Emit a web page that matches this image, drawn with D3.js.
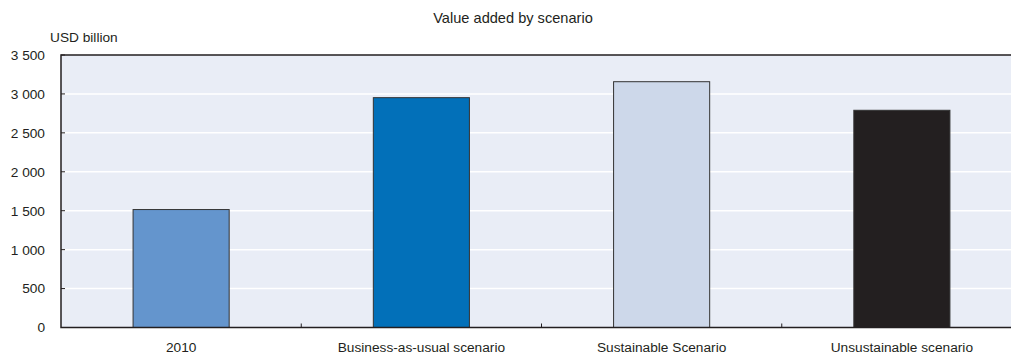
<!DOCTYPE html>
<html>
<head>
<meta charset="utf-8">
<script src="https://cdn.jsdelivr.net/npm/d3@7"></script>
<style>
  html, body { margin: 0; padding: 0; background: #fff; }
  svg { display: block; }
  text { font-family: "Liberation Sans", Arial, sans-serif; fill: #231f20; }
</style>
</head>
<body>
<div id="chart"></div>
<script>
// Value added by scenario (USD billion)
const categories = ["2010", "Business-as-usual scenario", "Sustainable Scenario", "Unsustainable scenario"];
const values = [1515, 2952, 3157, 2790];
const barColors = ["#6495cd", "#0270b9", "#cdd8ea", "#231f20"];
const yTicks = [0, 500, 1000, 1500, 2000, 2500, 3000, 3500];

const width = 1011, height = 356;
const plot = { left: 61, right: 1022, top: 55, bottom: 327.5 };

const svg = d3.select("#chart").append("svg")
  .attr("width", width).attr("height", height);

const x = d3.scaleBand().domain(categories).range([plot.left, plot.right]).padding(0);
const y = d3.scaleLinear().domain([0, 3500]).range([plot.bottom, plot.top]);

// plot background
svg.append("rect")
  .attr("x", plot.left).attr("y", plot.top)
  .attr("width", plot.right - plot.left).attr("height", plot.bottom - plot.top)
  .attr("fill", "#e9edf6");

// horizontal gridlines
svg.append("g").selectAll("line").data(yTicks.filter(d => d > 0 && d < 3500)).join("line")
  .attr("x1", plot.left).attr("x2", plot.right)
  .attr("y1", d => y(d)).attr("y2", d => y(d))
  .attr("stroke", "#ffffff").attr("stroke-width", 1.5);

// bars
const barW = x.bandwidth() * 0.4;
svg.append("g").selectAll("rect").data(categories).join("rect")
  .attr("x", d => x(d) + (x.bandwidth() - barW) / 2)
  .attr("width", barW)
  .attr("y", (d, i) => y(values[i]))
  .attr("height", (d, i) => y(0) - y(values[i]))
  .attr("fill", (d, i) => barColors[i])
  .attr("stroke", "#333333").attr("stroke-width", 1);

// y axis
const yAxis = d3.axisLeft(y).tickValues(yTicks).tickSize(0).tickPadding(16)
  .tickFormat(d => d3.format(",")(d).replace(/,/g, "\u00a0"));
const gy = svg.append("g").attr("transform", `translate(${plot.left},0)`).call(yAxis);
gy.select(".domain").remove();
gy.selectAll("text").style("font-size", "13.7px").style("font-family", '"Liberation Sans", Arial, sans-serif').attr("fill", "#231f20");
// inward tick marks
svg.append("g").selectAll("line").data(yTicks).join("line")
  .attr("x1", plot.left).attr("x2", plot.left + 4)
  .attr("y1", d => y(d)).attr("y2", d => y(d))
  .attr("stroke", "#231f20").attr("stroke-width", 1);

// x axis
const xAxis = d3.axisBottom(x).tickSize(0).tickPadding(15);
const gx = svg.append("g").attr("transform", `translate(0,${plot.bottom})`).call(xAxis);
gx.select(".domain").remove();
gx.selectAll("text").style("font-size", "13.7px").style("font-family", '"Liberation Sans", Arial, sans-serif').attr("fill", "#231f20");
// category separator ticks
svg.append("g").selectAll("line").data(categories.slice(1)).join("line")
  .attr("x1", d => x(d)).attr("x2", d => x(d))
  .attr("y1", plot.bottom).attr("y2", plot.bottom - 4)
  .attr("stroke", "#231f20").attr("stroke-width", 1);

// frame: top, left, bottom
svg.append("path")
  .attr("d", `M${plot.right},${plot.top}H${plot.left}V${plot.bottom}H${plot.right}`)
  .attr("fill", "none").attr("stroke", "#231f20").attr("stroke-width", 1.5);

// title and unit label
svg.append("text")
  .attr("x", 513).attr("y", 22.5).attr("text-anchor", "middle")
  .style("font-size", "14.6px")
  .text("Value added by scenario");

svg.append("text")
  .attr("x", 50).attr("y", 41.5)
  .style("font-size", "13.7px")
  .text("USD billion");
</script>
</body>
</html>
